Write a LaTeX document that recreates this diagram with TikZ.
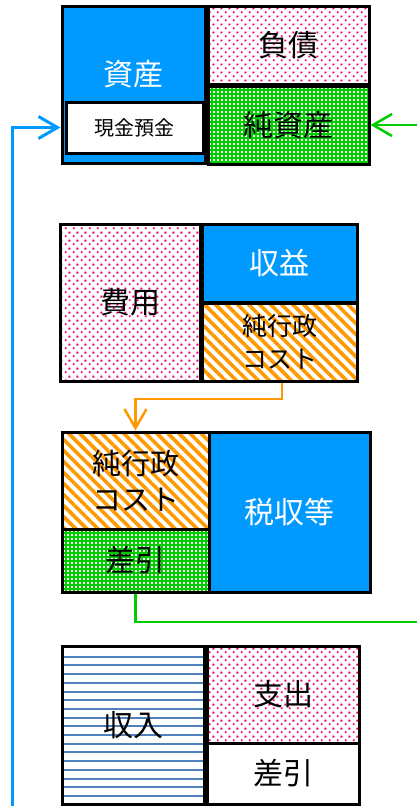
\documentclass[tikz,border=0pt]{standalone}
\usepackage{fontspec}
\setmainfont{Noto Sans CJK JP}
\usetikzlibrary{patterns.meta,arrows.meta}
\definecolor{cblue}{RGB}{0,153,255}
\definecolor{cgreen}{RGB}{0,204,0}
\definecolor{corange}{RGB}{255,153,0}
\definecolor{cpink}{RGB}{240,0,110}
\definecolor{cstripe}{RGB}{79,129,189}
\tikzdeclarepattern{
  name=pinkdots, type=uncolored,
  bounding box={(0pt,0pt) and (8pt,8pt)},
  tile size={(8pt,8pt)},
  code={\fill (1pt,1pt) rectangle (3pt,3pt); \fill (5pt,5pt) rectangle (7pt,7pt);}
}
\begin{document}
\begin{tikzpicture}[x=1pt,y=-1pt,
  box/.style={draw=black, line width=3pt, inner sep=0pt, align=center, text=black},
  big/.style={font=\fontsize{30pt}{36pt}\selectfont},
  bluebox/.style={box, fill=cblue, text=white},
  pinkbox/.style={box, pattern=pinkdots, pattern color=cpink, preaction={fill=white}},
  greenbox/.style={box, fill=cgreen, path picture={
      \foreach \i in {0,...,40}{\foreach \j in {0,...,20}{
        \fill[white] ([xshift=\i*4pt+1pt, yshift=-\j*4pt-1pt]path picture bounding box.north west) rectangle ++(2pt,-2pt);
      }}}},
  orangebox/.style={box, pattern={Lines[angle=-45,distance=7.8pt,line width=3.6pt]}, pattern color=corange, preaction={fill=white}},
  stripebox/.style={box, fill=white, path picture={
      \foreach \k in {0,...,17}{
        \fill[cstripe] ([yshift=-(9.7+\k*8.7)*1pt]path picture bounding box.north west) rectangle ++(160pt,-2pt);
      }}},
  whitebox/.style={box, fill=white},
  conn/.style={line width=2.5pt, -{Straight Barb[length=19pt,width=22pt]}},
]
\useasboundingbox (0,0) rectangle (417,806);
% block 1
\node[bluebox, minimum width=143pt, minimum height=157pt,
  label={[text=white, big, yshift=10.5pt]center:資産}] (shisan) at (133.5,84.5) {};
\node[whitebox, minimum width=137pt, minimum height=51pt, font=\fontsize{20pt}{24pt}\selectfont] (genkin) at (134.5,127.5) {現金預金};
\node[pinkbox, big, minimum width=161pt, minimum height=78pt] (fusai) at (288.5,45) {負債};
\node[greenbox, big, minimum width=161pt, minimum height=78pt] (junshisan) at (288.5,125) {純資産};
% block 2
\node[pinkbox, big, minimum width=140pt, minimum height=157pt] (hiyou) at (130,302.5) {費用};
\node[bluebox, big, minimum width=155pt, minimum height=78pt] (shueki) at (279.5,263) {収益};
\node[orangebox, minimum width=155pt, minimum height=78pt, font=\fontsize{25pt}{33pt}\selectfont] (junkosutoA) at (279.5,342) {純行政\\コスト};
% block 3
\node[orangebox, minimum width=147pt, minimum height=97pt, font=\fontsize{29pt}{36pt}\selectfont] (junkosutoB) at (135.5,480.5) {純行政\\コスト};
\node[greenbox, big, minimum width=147pt, minimum height=63pt] (sashihikiA) at (135.5,560.5) {差引};
\node[bluebox, big, minimum width=161pt, minimum height=160pt] (zeishu) at (289.5,512) {税収等};
% block 4
\node[stripebox, big, minimum width=142pt, minimum height=158pt] (shunyu) at (133,725) {収入};
\node[pinkbox, big, minimum width=152pt, minimum height=97pt] (shishutsu) at (283,694.5) {支出};
\node[whitebox, big, minimum width=152pt, minimum height=61pt] (sashihikiB) at (283,773.5) {差引};
% connectors
\coordinate (bstart) at (12,840);
\coordinate (gturn) at (440,622);
\draw[conn, cblue, line width=3pt] (bstart) |- (shisan.west |- genkin.west);
\draw[conn, corange] ([xshift=2.5pt]junkosutoA.south) -- ++(0,16) -| (junkosutoB.north);
\draw[conn, cgreen] (sashihikiA.south) |- (gturn) |- (junshisan.east);
\end{tikzpicture}
\end{document}
